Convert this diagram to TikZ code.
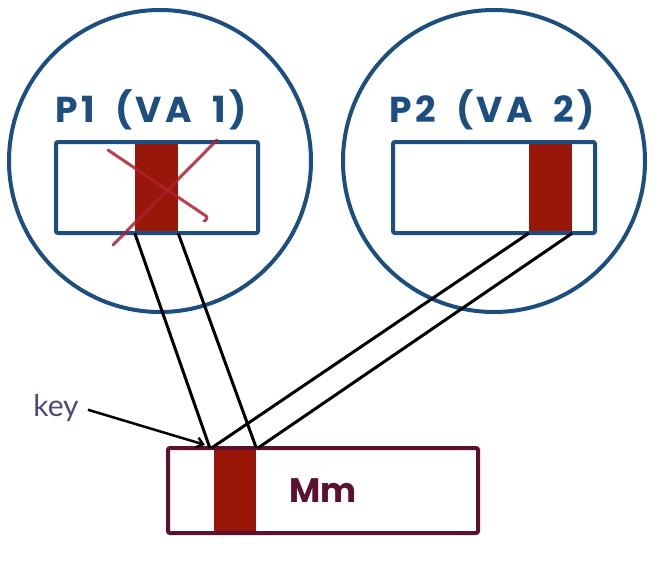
\documentclass[tikz,border=0pt]{standalone}
\usepackage{fontspec}
\newfontfamily\titlefont{Poppins}
\newfontfamily\widetitlefont{Poppins}[LetterSpace=10,WordSpace=1.8]
\newfontfamily\keyfont{Lato}
\usetikzlibrary{positioning,arrows.meta}
\definecolor{procblue}{HTML}{1C4F80}
\definecolor{pagered}{HTML}{991709}
\definecolor{memred}{HTML}{5C1131}
\definecolor{crossred}{HTML}{B0202E}
\definecolor{keypurple}{HTML}{55457A}
\tikzset{
  proc/.style={draw=procblue,line width=4pt,circle,minimum size=302pt,inner sep=0pt},
  vabox/.style={draw=procblue,line width=4pt,rounded corners=2pt,minimum width=202pt,minimum height=91pt,inner sep=0pt},
  page/.style={fill=pagered,minimum width=43pt,inner sep=0pt},
  title/.style={text=procblue,font=\widetitlefont\bfseries\fontsize{36}{36}\selectfont,anchor=base},
  map/.style={black,line width=3pt},
}
\begin{document}
\begin{tikzpicture}[x=1pt,y=-1pt]
\useasboundingbox[fill=white] (0,0) rectangle (672,582);
% the two processes
\node[proc] (p1) at (160,161) {};
\node[proc] (p2) at (494,161) {};
\node[title] (t1) at (151,122) {P1 (VA 1)};
\node[title] (t2) at (492,122) {P2 (VA 2)};
% pages
\node[page,minimum height=91pt] (pg1) at (156.5,187.5) {};
\node[page,minimum height=91pt] (pg2) at (550.5,187.5) {};
\node[vabox] (va1) at (157,187.5) {};
\node[vabox] (va2) at (494,187.5) {};
% main memory
\node[page,minimum width=42pt,minimum height=85pt] (mpg) at (235,490.5) {};
\node[draw=memred,line width=4pt,rounded corners=2pt,minimum width=310pt,minimum height=85pt,
  text=memred,font=\titlefont\bfseries\fontsize{34}{34}\selectfont] (mm) at (323,490.5) {Mm};
% cross over P1's page
\draw[crossred,line width=3pt,line cap=round,opacity=.85] (108,150) -- (206,216) to[out=-30,in=0] (204,221);
\draw[crossred,line width=3pt,line cap=round,opacity=.85] (217,140) -- (113,245);
% mappings
\draw[map] (pg1.south west) -- ([xshift=-4pt]mpg.north west);
\draw[map] (pg1.south east) -- (mpg.north east);
\draw[map] (pg2.south west) -- ([xshift=-2pt]mpg.north west);
\draw[map] (pg2.south east) -- ([xshift=2pt]mpg.north east);
% key
\node[text=keypurple,font=\keyfont\fontsize{30}{30}\selectfont] (key) at (56,408) {key};
\draw[black,line width=2.5pt,-{Straight Barb[length=6pt,width=10pt]},shorten <=6pt] (key.east) -- ([xshift=-9pt,yshift=3pt]mpg.north west);
\end{tikzpicture}
\end{document}
